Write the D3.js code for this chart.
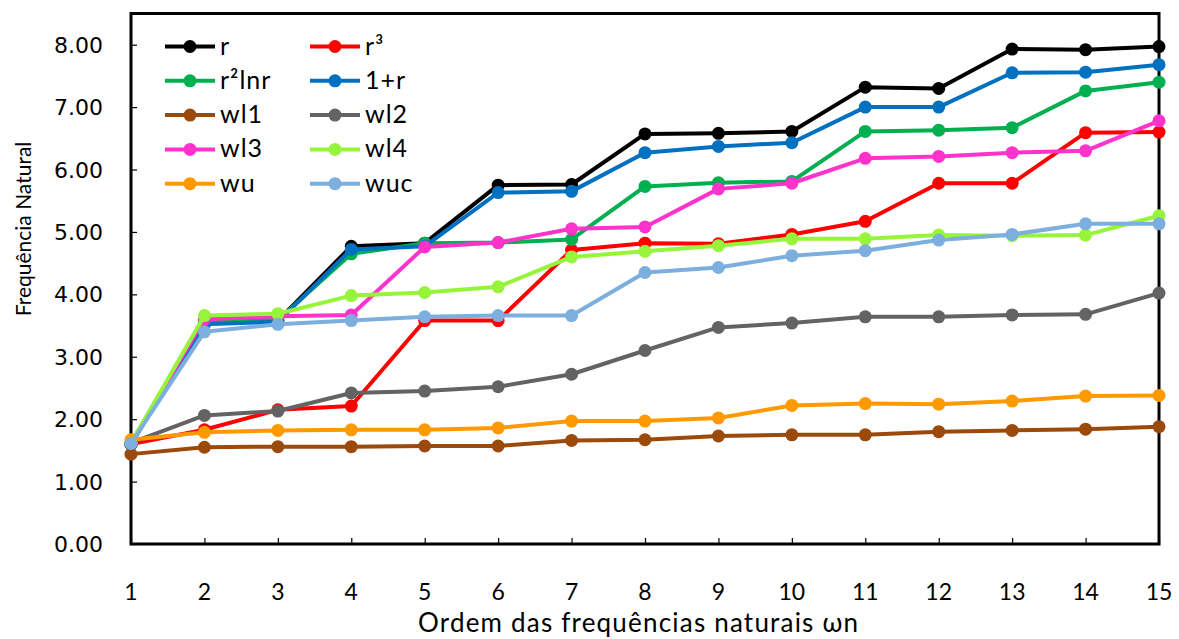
<!DOCTYPE html>
<html>
<head>
<meta charset="utf-8">
<script src="https://cdn.jsdelivr.net/npm/d3@7"></script>
<style>
  body { margin: 0; background: #fff; }
  svg { display: block; }
</style>
</head>
<body>
<svg width="1179" height="639"></svg>
<script>
'use strict'

const ORDERS = [1, 2, 3, 4, 5, 6, 7, 8, 9, 10, 11, 12, 13, 14, 15];
const Y_TICKS = [0, 1, 2, 3, 4, 5, 6, 7, 8];

const R = [1.60, 3.55, 3.58, 4.77, 4.82, 5.75, 5.76, 6.57, 6.58, 6.61, 7.32, 7.30, 7.93, 7.92, 7.97];
const R3 = [1.60, 1.83, 2.15, 2.21, 3.58, 3.58, 4.71, 4.82, 4.81, 4.96, 5.17, 5.78, 5.78, 6.59, 6.60];
const R2LNR = [1.60, 3.57, 3.59, 4.65, 4.82, 4.83, 4.88, 5.73, 5.79, 5.81, 6.61, 6.63, 6.67, 7.26, 7.40];
const ONE_PLUS_R = [1.60, 3.52, 3.56, 4.72, 4.77, 5.63, 5.65, 6.27, 6.37, 6.43, 7.00, 7.00, 7.55, 7.56, 7.68];
const WL1 = [1.44, 1.55, 1.56, 1.56, 1.57, 1.57, 1.66, 1.67, 1.73, 1.75, 1.75, 1.80, 1.82, 1.84, 1.88];
const WL2 = [1.62, 2.06, 2.13, 2.42, 2.45, 2.52, 2.72, 3.10, 3.47, 3.54, 3.64, 3.64, 3.67, 3.68, 4.02];
const WL3 = [1.62, 3.60, 3.65, 3.67, 4.76, 4.83, 5.05, 5.08, 5.69, 5.78, 6.18, 6.21, 6.27, 6.30, 6.78];
const WL4 = [1.62, 3.66, 3.69, 3.98, 4.03, 4.12, 4.60, 4.69, 4.78, 4.89, 4.89, 4.95, 4.94, 4.95, 5.26];
const WU = [1.67, 1.79, 1.82, 1.83, 1.83, 1.86, 1.97, 1.97, 2.02, 2.22, 2.25, 2.24, 2.29, 2.37, 2.38];
const WUC = [1.61, 3.40, 3.52, 3.58, 3.64, 3.66, 3.66, 4.35, 4.43, 4.62, 4.70, 4.87, 4.96, 5.13, 5.13];

const SERIES_NAMES = ['r', 'r³', 'r²lnr', '1+r', 'wl1', 'wl2', 'wl3', 'wl4', 'wu', 'wuc'];
const SERIES_VALUES = [R, R3, R2LNR, ONE_PLUS_R, WL1, WL2, WL3, WL4, WU, WUC];
const COLORS = ['#000000', '#ff0000', '#00b050', '#0070c0', '#9c4a0c',
  '#636363', '#ff33cc', '#96f53a', '#ff9900', '#7cafdd'];

const LEFT = 131;
const RIGHT = 1159;
const TOP = 13.5;
const BOTTOM = 544;

const svg = d3.select('svg');

const x = d3.scaleLinear().domain([1, 15]).range([LEFT, RIGHT]);
const y = d3.scaleLinear().domain([0, 8.5]).range([BOTTOM, TOP]);

// frame
svg.append('rect')
  .attr('x', LEFT)
  .attr('y', TOP)
  .attr('width', RIGHT - LEFT)
  .attr('height', BOTTOM - TOP)
  .attr('fill', 'none')
  .attr('stroke', '#000')
  .attr('stroke-width', 3);

// y axis, ticks pointing inside
const yAxis = svg.append('g')
  .attr('transform', `translate(${LEFT},0)`)
  .call(d3.axisRight(y).tickValues(Y_TICKS).tickSize(6).tickFormat(''));
yAxis.select('.domain').remove();
yAxis.selectAll('line').attr('stroke', '#000').attr('stroke-width', 1.2);

svg.append('g')
  .selectAll('text')
  .data(Y_TICKS)
  .join('text')
  .attr('x', 103)
  .attr('y', d => y(d) + 8)
  .attr('text-anchor', 'end')
  .style('font-family', '"DejaVu Sans", sans-serif')
  .style('font-size', '22px')
  .text(d => d.toFixed(2));

// x axis, ticks pointing inside
const xAxis = svg.append('g')
  .attr('transform', `translate(0,${BOTTOM})`)
  .call(d3.axisTop(x).tickValues(ORDERS).tickSize(6).tickFormat(''));
xAxis.select('.domain').remove();
xAxis.selectAll('line').attr('stroke', '#000').attr('stroke-width', 1.2);

svg.append('g')
  .selectAll('text')
  .data(ORDERS)
  .join('text')
  .attr('x', d => x(d))
  .attr('y', 600)
  .attr('text-anchor', 'middle')
  .style('font-family', 'Lato, sans-serif')
  .style('font-size', '23px')
  .text(d => d);

svg.append('text')
  .attr('x', 638)
  .attr('y', 632)
  .attr('text-anchor', 'middle')
  .style('font-family', 'Lato, sans-serif')
  .style('font-size', '26px')
  .attr('textLength', 440)
  .text('Ordem das frequências naturais ωn');

svg.append('text')
  .attr('transform', 'translate(31,229) rotate(-90)')
  .attr('text-anchor', 'middle')
  .style('font-family', 'Lato, sans-serif')
  .style('font-size', '21px')
  .text('Frequência Natural');

// series
const line = d3.line()
  .x((d, i) => x(ORDERS[i]))
  .y(d => y(d));

SERIES_VALUES.forEach((vals, s) => {
  const g = svg.append('g');
  g.append('path')
    .datum(vals)
    .attr('d', line)
    .attr('fill', 'none')
    .attr('stroke', COLORS[s])
    .attr('stroke-width', 4)
    .attr('stroke-linejoin', 'round');
  g.selectAll('circle')
    .data(vals)
    .join('circle')
    .attr('cx', (d, i) => x(ORDERS[i]))
    .attr('cy', d => y(d))
    .attr('r', 6.5)
    .attr('fill', COLORS[s]);
});

// legend, two columns
const legend = svg.append('g')
  .selectAll('g')
  .data(SERIES_NAMES)
  .join('g')
  .attr('transform', (d, i) => `translate(${i % 2 === 0 ? 165 : 310},${46.5 + Math.floor(i / 2) * 34.3})`);

legend.append('line')
  .attr('x1', 0)
  .attr('x2', 50)
  .attr('stroke', (d, i) => COLORS[i])
  .attr('stroke-width', 4);

legend.append('circle')
  .attr('cx', 25)
  .attr('r', 6.5)
  .attr('fill', (d, i) => COLORS[i]);

legend.append('text')
  .attr('x', 55)
  .attr('y', 8)
  .style('font-family', 'Lato, sans-serif')
  .style('font-size', '25px')
  .style('letter-spacing', '1px')
  .text(d => d);
</script>
</body>
</html>
